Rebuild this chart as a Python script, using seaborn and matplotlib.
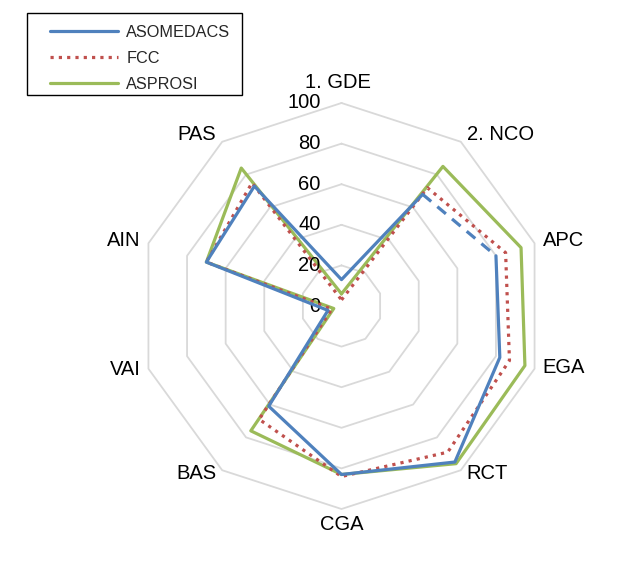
import numpy as np
import pandas as pd
import matplotlib
matplotlib.use("Agg")
import matplotlib.pyplot as plt
from matplotlib.patches import Rectangle
from matplotlib.lines import Line2D
import seaborn as sns

# data
categories = ["1. GDE", "2. NCO", "APC", "EGA", "RCT", "CGA", "BAS", "VAI", "AIN", "PAS"]
asomedacs = [13, 68, 80, 82, 95, 83, 61, 7, 70, 73]
fcc = [3, 72, 85, 87, 89, 84, 69, 5, 70, 75]
asprosi = [6, 85, 93, 95, 96, 83, 76, 4, 70, 84]
series_names = ["ASOMEDACS", "FCC", "ASPROSI"]
grid_levels = [20, 40, 60, 80, 100]
tick_levels = [0, 20, 40, 60, 80, 100]

colors = {"ASOMEDACS": "#4F81BD", "FCC": "#C0504D", "ASPROSI": "#9BBB59"}

sns.set_theme(style="white")
plt.rcParams["font.family"] = ["Liberation Sans", "DejaVu Sans"]

W, H = 630, 582
fig = plt.figure(figsize=(W / 100, H / 100), dpi=100)
cx, cy, rad = 341.5, 306, 203
ax = fig.add_axes([(cx - rad) / W, (H - cy - rad) / H, 2 * rad / W, 2 * rad / H],
                  projection="polar")
ax.set_theta_zero_location("N")
ax.set_theta_direction(-1)
ax.set_ylim(0, 100)
ax.grid(False)
ax.spines["polar"].set_visible(False)
ax.set_xticks([])
ax.set_yticks([])
ax.patch.set_alpha(0)

n = len(categories)
theta = np.arange(n) * 2 * np.pi / n
theta_closed = np.append(theta, 2 * np.pi)

# decagon grid
for lev in grid_levels:
    ax.plot(theta_closed, [lev] * (n + 1), color="#D9D9D9", lw=1.3, clip_on=False, zorder=1)


def closed(vals):
    return pd.DataFrame({"theta": theta_closed, "r": list(vals) + [vals[0]]})


lw = 2.3
# ASPROSI
sns.lineplot(data=closed(asprosi), x="theta", y="r", sort=False, estimator=None, ax=ax,
             color=colors["ASPROSI"], lw=lw, zorder=3)
# FCC dotted
sns.lineplot(data=closed(fcc), x="theta", y="r", sort=False, estimator=None, ax=ax,
             color=colors["FCC"], lw=lw, zorder=4, linestyle=(0, (1, 1.6)))
# ASOMEDACS: solid except the 2. NCO -> APC segment which is dashed
order = list(range(2, n)) + [0, 1]
solid = pd.DataFrame({"theta": [theta[i] if i > 1 else theta[i] + 2 * np.pi for i in order],
                      "r": [asomedacs[i] for i in order]})
sns.lineplot(data=solid, x="theta", y="r", sort=False, estimator=None, ax=ax,
             color=colors["ASOMEDACS"], lw=lw, zorder=5)
dashed = pd.DataFrame({"theta": theta[1:3], "r": asomedacs[1:3]})
sns.lineplot(data=dashed, x="theta", y="r", sort=False, estimator=None, ax=ax,
             color=colors["ASOMEDACS"], lw=lw, zorder=5, linestyle=(0, (3.5, 2.5)))
ax.set_xlabel("")
ax.set_ylabel("")

# category labels
label_pos = [("center", (-4, 20)), ("left", (6, 7)), ("left", (8, 3)), ("left", (8, 1)),
             ("left", (6, -3)), ("center", (0, -16)), ("right", (-6, -3)), ("right", (-8, -1)),
             ("right", (-8, 3)), ("right", (-6, 7))]
for t, cat, (ha, off) in zip(theta, categories, label_pos):
    ax.annotate(cat, xy=(t, 100), xytext=off, textcoords="offset pixels",
                ha=ha, va="center", fontsize=14.5, color="black", annotation_clip=False)

# radial tick labels
for lev in tick_levels:
    ax.annotate(str(lev), xy=(0, lev), xytext=(-21, 0), textcoords="offset pixels",
                ha="right", va="center", fontsize=14.5, color="black", annotation_clip=False)

# legend
fig.patches.append(Rectangle((27 / W, 1 - 95 / H), 215 / W, 82 / H, transform=fig.transFigure,
                             fill=False, edgecolor="black", lw=1))
handles = [Line2D([], [], color=colors["ASOMEDACS"], lw=lw),
           Line2D([], [], color=colors["FCC"], lw=lw, linestyle=(0, (1, 1.6))),
           Line2D([], [], color=colors["ASPROSI"], lw=lw)]
fig.legend(handles, series_names, loc="upper left", bbox_to_anchor=(50 / W, 1 - 25 / H),
           frameon=False, borderpad=0, borderaxespad=0, fontsize=11.7,
           handlelength=4.2, handletextpad=0.5, labelspacing=0.68)

fig.savefig("out.png", dpi=100)
